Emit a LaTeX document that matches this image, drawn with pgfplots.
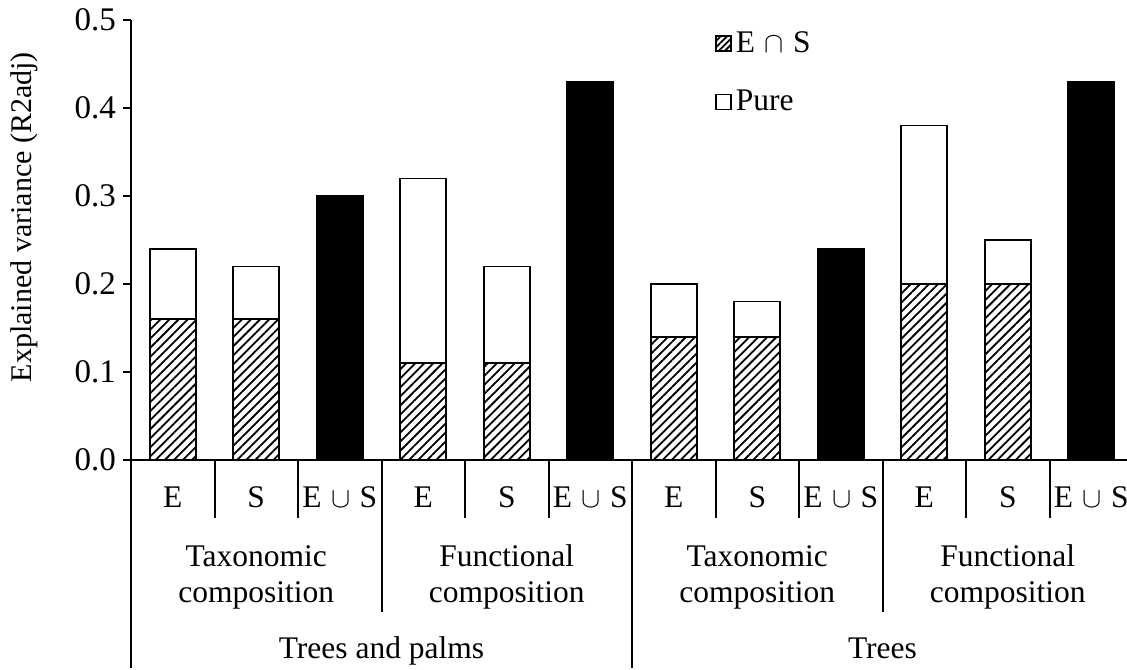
\documentclass[border=0pt]{standalone}
\usepackage{fontspec}
\setmainfont{Liberation Serif}
\usepackage{pgfplots}
\pgfplotsset{compat=1.18}
\usetikzlibrary{patterns.meta}
\newcommand{\EuS}{E\hspace{0.3em}$\cup$\hspace{0.3em}S}

\begin{document}
\begin{tikzpicture}[font=\fontsize{15.75}{18}\selectfont]
\begin{axis}[name=ax,
  scale only axis, width=498pt, height=220pt,
  xmin=-0.5, xmax=11.428, ymin=0, ymax=0.5,
  ybar stacked, bar width=23pt,
  axis x line=bottom, axis y line=left,
  axis line style={-, line width=1pt},
  xtick=\empty,
  ytick={0,0.1,0.2,0.3,0.4,0.5},
  yticklabel style={font=\fontsize{16.5}{18}\selectfont, /pgf/number format/fixed, /pgf/number format/precision=1,
    /pgf/number format/fixed zerofill, /pgf/number format/assume math mode=true},
  tick align=outside, major tick length=4pt, tick style={black, line width=1pt},
  every axis y label/.style={at={([xshift=-53.5pt]axis description cs:0,0.552)}, rotate=90, anchor=center,
    font=\fontsize{15}{18}\selectfont},
  ylabel={Explained variance (R2adj)},
  clip=false,
  legend style={at={(rel axis cs:0.586,0.984)}, anchor=north west, draw=none, fill=none,
    row sep=13.5pt, inner sep=0pt, nodes={inner sep=2pt, anchor=west, xshift=2pt}},
  legend cell align=left,
]
\addplot[draw=black, line width=0.8pt, pattern={Lines[angle=45, distance=3.2pt, line width=0.9pt]}, pattern color=black,
  legend image code/.code={\draw[draw=black, line width=0.8pt, pattern={Lines[angle=45, distance=2.2pt, line width=0.9pt]}, pattern color=black] (0pt,-3.75pt) rectangle (7.5pt,3.75pt);}]
  coordinates {(0,0.16) (1,0.16) (2,0) (3,0.11) (4,0.11) (5,0) (6,0.14) (7,0.14) (8,0) (9,0.20) (10,0.20) (11,0)};
\addplot[draw=black, line width=0.8pt, fill=white,
  legend image code/.code={\draw[draw=black, line width=0.8pt, fill=white] (0pt,-3.75pt) rectangle (7.5pt,3.75pt);}]
  coordinates {(0,0.08) (1,0.06) (2,0) (3,0.21) (4,0.11) (5,0) (6,0.06) (7,0.04) (8,0) (9,0.18) (10,0.05) (11,0)};
\addplot[draw=black, line width=0.8pt, fill=black]
  coordinates {(0,0) (1,0) (2,0.30) (3,0) (4,0) (5,0.43) (6,0) (7,0) (8,0.24) (9,0) (10,0) (11,0.43)};
\legend{E\hspace{0.3em}$\cap$\hspace{0.3em}S, Pure}

% separators below the axis
\draw[line width=1pt] (axis cs:-0.5,0) -- ([yshift=-104pt]axis cs:-0.5,0);
\draw[line width=1pt] (axis cs:0.5,0) -- ([yshift=-29pt]axis cs:0.5,0);
\draw[line width=1pt] (axis cs:1.5,0) -- ([yshift=-29pt]axis cs:1.5,0);
\draw[line width=1pt] (axis cs:2.5,0) -- ([yshift=-76pt]axis cs:2.5,0);
\draw[line width=1pt] (axis cs:3.5,0) -- ([yshift=-29pt]axis cs:3.5,0);
\draw[line width=1pt] (axis cs:4.5,0) -- ([yshift=-29pt]axis cs:4.5,0);
\draw[line width=1pt] (axis cs:5.5,0) -- ([yshift=-104pt]axis cs:5.5,0);
\draw[line width=1pt] (axis cs:6.5,0) -- ([yshift=-29pt]axis cs:6.5,0);
\draw[line width=1pt] (axis cs:7.5,0) -- ([yshift=-29pt]axis cs:7.5,0);
\draw[line width=1pt] (axis cs:8.5,0) -- ([yshift=-76pt]axis cs:8.5,0);
\draw[line width=1pt] (axis cs:9.5,0) -- ([yshift=-29pt]axis cs:9.5,0);
\draw[line width=1pt] (axis cs:10.5,0) -- ([yshift=-29pt]axis cs:10.5,0);

% first row labels
\node[anchor=base] at ([yshift=-24pt]axis cs:0,0) {E};
\node[anchor=base] at ([yshift=-24pt]axis cs:1,0) {S};
\node[anchor=base] at ([yshift=-24pt]axis cs:2,0) {\EuS};
\node[anchor=base] at ([yshift=-24pt]axis cs:3,0) {E};
\node[anchor=base] at ([yshift=-24pt]axis cs:4,0) {S};
\node[anchor=base] at ([yshift=-24pt]axis cs:5,0) {\EuS};
\node[anchor=base] at ([yshift=-24pt]axis cs:6,0) {E};
\node[anchor=base] at ([yshift=-24pt]axis cs:7,0) {S};
\node[anchor=base] at ([yshift=-24pt]axis cs:8,0) {\EuS};
\node[anchor=base] at ([yshift=-24pt]axis cs:9,0) {E};
\node[anchor=base] at ([yshift=-24pt]axis cs:10,0) {S};
\node[anchor=base] at ([yshift=-24pt]axis cs:11,0) {\EuS};

% second row
\node[anchor=base, align=center] at ([yshift=-71.5pt]axis cs:1,0) {Taxonomic\\composition};
\node[anchor=base, align=center] at ([yshift=-71.5pt]axis cs:4,0) {Functional\\composition};
\node[anchor=base, align=center] at ([yshift=-71.5pt]axis cs:7,0) {Taxonomic\\composition};
\node[anchor=base, align=center] at ([yshift=-71.5pt]axis cs:10,0) {Functional\\composition};

% third row
\node[anchor=base] at ([yshift=-99.5pt]axis cs:2.5,0) {Trees and palms};
\node[anchor=base] at ([yshift=-99.5pt]axis cs:8.5,0) {Trees};
\end{axis}
\pgfresetboundingbox
\path[use as bounding box] ([shift={(-65.5pt,-105pt)}]ax.south west) rectangle ([yshift=10pt]ax.north east);
\end{tikzpicture}
\end{document}
